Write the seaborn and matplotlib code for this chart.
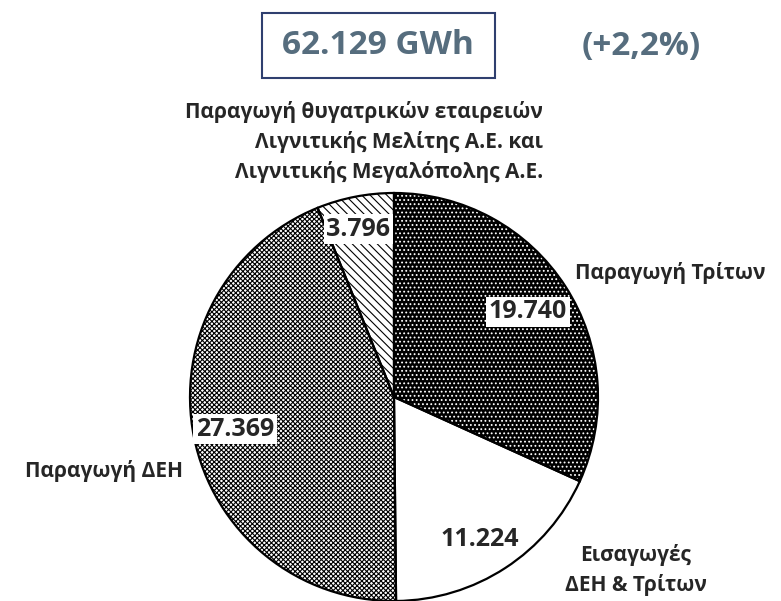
import matplotlib
matplotlib.use("Agg")
import matplotlib.pyplot as plt
from matplotlib.patches import Rectangle
import seaborn as sns

# data
categories = ["Παραγωγή Τρίτων", "Εισαγωγές\nΔΕΗ & Τρίτων", "Παραγωγή ΔΕΗ",
              "Παραγωγή θυγατρικών εταιρειών\nΛιγνιτικής Μελίτης Α.Ε. και\nΛιγνιτικής Μεγαλόπολης Α.Ε."]
values = [19740, 11224, 27369, 3796]
value_labels = ["19.740", "11.224", "27.369", "3.796"]
total_label = "62.129 GWh"
change_label = "(+2,2%)"

sns.set_theme(style="white")
plt.rcParams["font.family"] = ["Open Sans", "DejaVu Sans"]
plt.rcParams["font.weight"] = "bold"
plt.rcParams["hatch.linewidth"] = 0.8

fig = plt.figure(figsize=(7.81, 6.01), dpi=100)
W, H = 781, 601
cx, cy, r = 394, 397, 204
ax = fig.add_axes([(cx - r) / W, (H - cy - r) / H, 2 * r / W, 2 * r / H])

faces = ["black", "white", "white", "white"]
hatch_cols = ["white", "white", "black", "black"]
hatches = ["....", "", "xxxxxxx", "\\\\\\\\"]

wedges, _ = ax.pie(values, startangle=90, counterclock=False, colors=faces,
                   wedgeprops=dict(linewidth=0))
for w, h, hc in zip(wedges, hatches, hatch_cols):
    w.set_hatch(h)
    w.set_edgecolor(hc)

# outlines
outl, _ = ax.pie(values, startangle=90, counterclock=False,
                 wedgeprops=dict(fill=False, edgecolor="black", linewidth=1.6))
for w in outl:
    w.set_clip_on(False)
ax.set_xlim(-1, 1)
ax.set_ylim(-1, 1)
ax.set_aspect("equal")


def px(x, y):
    return x / W, 1 - y / H


box = dict(boxstyle="square,pad=0.1", facecolor="white", edgecolor="none")
fs_val = 18
fig.text(*px(528, 312), value_labels[0], ha="center", va="center", fontsize=fs_val, bbox=box)
fig.text(*px(480, 539), value_labels[1], ha="center", va="center", fontsize=fs_val)
fig.text(*px(235, 429), value_labels[2], ha="center", va="center", fontsize=fs_val, bbox=box)
fig.text(*px(358, 229), value_labels[3], ha="center", va="center", fontsize=fs_val, bbox=box)

fs_lab = 15
fig.text(*px(575, 273), categories[0], ha="left", va="center", fontsize=fs_lab)
fig.text(*px(636, 570), categories[1], ha="center", va="center", fontsize=fs_lab,
         linespacing=1.5)
fig.text(*px(104, 471), categories[2], ha="center", va="center", fontsize=fs_lab)
fig.text(*px(543, 142), categories[3], ha="right", va="center", fontsize=fs_lab,
         linespacing=1.45)

fig.patches.append(Rectangle(px(262, 78), 233 / W, 65 / H, transform=fig.transFigure,
                             facecolor="white", edgecolor="#2f3f6f", linewidth=1.5))
fig.text(*px(378, 46), total_label, ha="center", va="center", fontsize=24,
         color="#566d7e")
fig.text(*px(641, 46), change_label, ha="center", va="center", fontsize=24,
         color="#566d7e")

fig.savefig("out.png", dpi=100)
